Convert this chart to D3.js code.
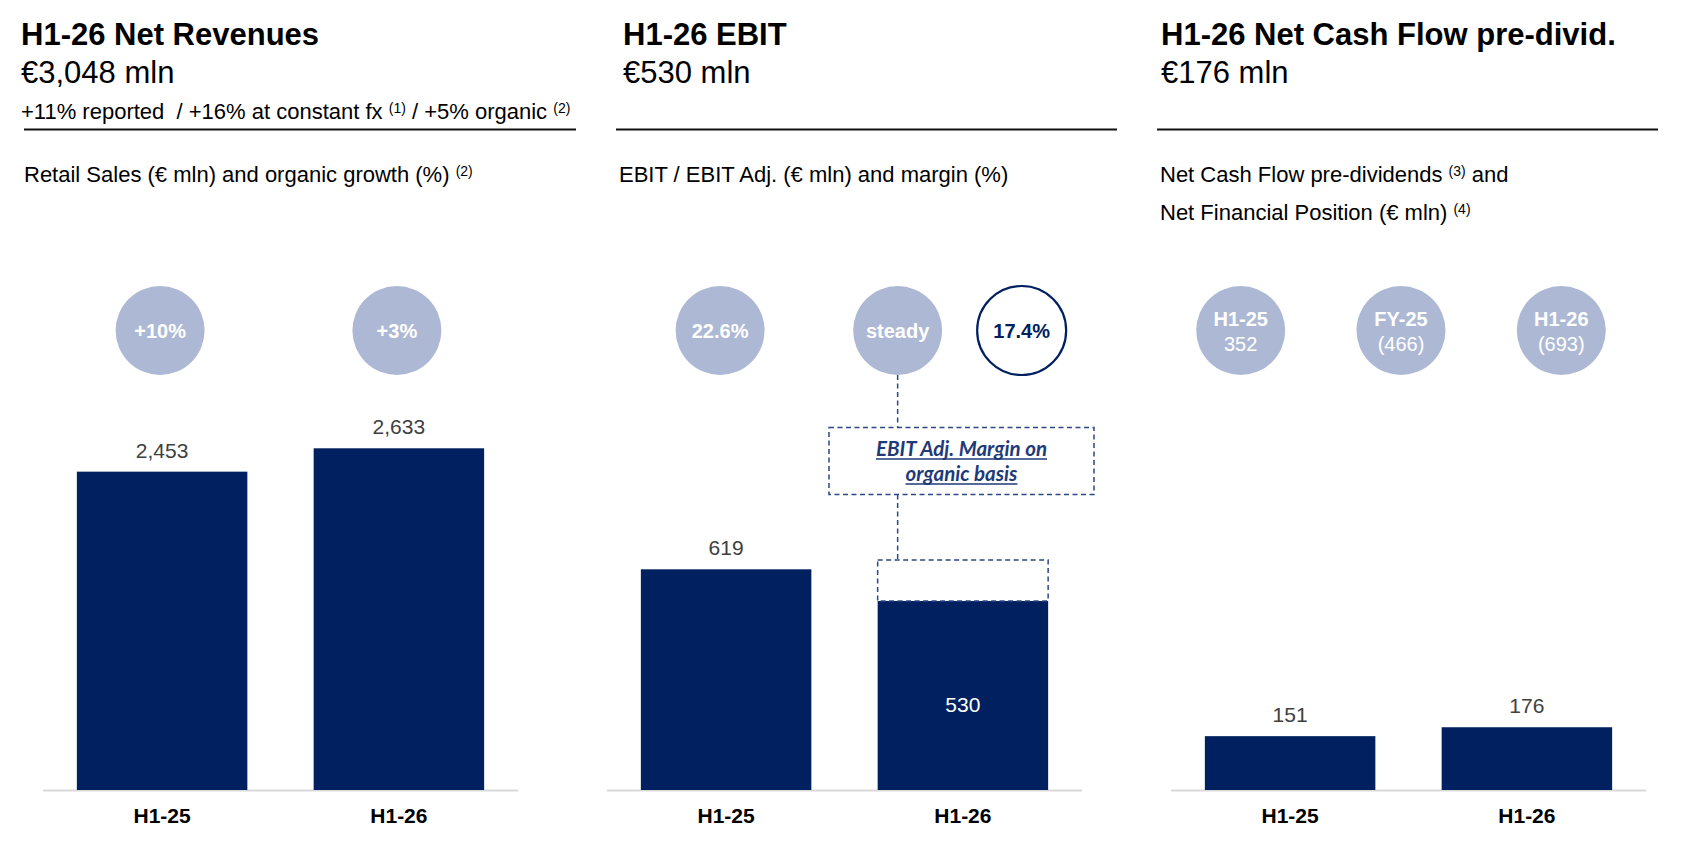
<!DOCTYPE html>
<html>
<head>
<meta charset="utf-8">
<script src="https://cdn.jsdelivr.net/npm/d3@7"></script>
<style>
  body { margin: 0; background: #fff; }
  svg { font-family: "Liberation Sans", Arial, sans-serif; }
</style>
</head>
<body>
<svg id="chart" width="1700" height="850"></svg>
<script>
// Data
const categories = ["H1-25", "H1-26"];
const revenueValues = [2453, 2633];
const revenueGrowth = ["+10%", "+3%"];
const ebitValues = [619, 530];
const ebitAdjValue = 645;
const ebitMargins = ["22.6%", "steady", "17.4%"];
const cashFlowValues = [151, 176];
const nfpPeriods = ["H1-25", "FY-25", "H1-26"];
const nfpValues = ["352", "(466)", "(693)"];

const NAVY = "#002060";
const BUBBLE = "#adb9d4";
const DASH = "#2c4785";

const svg = d3.select("#chart");

// Layout
const panelW = 475;
const baseY = 790;
const bubbleY = 330.5;
const bubbleR = 44.5;

const xScale = (x0) =>
  d3.scaleBand().domain(categories).range([x0, x0 + panelW])
    .paddingInner(0.28).paddingOuter(0.143);

// revenue gets its own scale, EBIT and cash flow share one
const yRevenue = d3.scaleLinear().domain([0, 2633]).range([baseY, 448.3]);
const ySmall = d3.scaleLinear().domain([0, 619]).range([baseY, 569.3]);

// Headers
const headers = [
  { x: 21, title: "H1-26 Net Revenues", value: "€3,048 mln", lineX: [24, 576] },
  { x: 623, title: "H1-26 EBIT", value: "€530 mln", lineX: [616, 1117] },
  { x: 1161, title: "H1-26 Net Cash Flow pre-divid.", value: "€176 mln", lineX: [1157, 1658] },
];

headers.forEach((h) => {
  svg.append("text").attr("x", h.x).attr("y", 44.5)
    .style("font-size", "31px").style("font-weight", "bold").text(h.title);
  svg.append("text").attr("x", h.x).attr("y", 83)
    .style("font-size", "31px").text(h.value);
  svg.append("line")
    .attr("x1", h.lineX[0]).attr("x2", h.lineX[1])
    .attr("y1", 129.5).attr("y2", 129.5)
    .attr("stroke", "#111").attr("stroke-width", 1.8);
});

// text with superscript notes: parts = [[text, isSup], ...]
const richText = (x, y, size, parts) => {
  const t = svg.append("text").attr("x", x).attr("y", y).style("font-size", size + "px");
  parts.forEach(([s, sup]) => {
    t.append("tspan")
      .attr("baseline-shift", sup ? "40%" : null)
      .style("font-size", sup ? "14px" : null)
      .text(s);
  });
  return t;
};

richText(21, 118.5, 22, [
  ["+11% reported  / +16% at constant fx ", false], ["(1)", true],
  [" / +5% organic ", false], ["(2)", true],
]).attr("xml:space", "preserve");
richText(24, 182, 22, [["Retail Sales (€ mln) and organic growth (%) ", false], ["(2)", true]]);
richText(619, 182, 22, [["EBIT / EBIT Adj. (€ mln) and margin (%)", false]]);
richText(1160, 182, 22, [["Net Cash Flow pre-dividends ", false], ["(3)", true], [" and", false]]);
richText(1160, 220, 22, [["Net Financial Position (€ mln) ", false], ["(4)", true]]);

// Bars
const drawPanel = (x0, values, yScale, labelInside) => {
  const x = xScale(x0);
  const g = svg.append("g");
  g.append("line")
    .attr("x1", x0).attr("x2", x0 + panelW)
    .attr("y1", baseY + 0.5).attr("y2", baseY + 0.5)
    .attr("stroke", "#d9d9d9").attr("stroke-width", 2);
  const data = categories.map((c, i) => ({ cat: c, value: values[i] }));
  g.selectAll("rect.bar").data(data).join("rect")
    .attr("class", "bar")
    .attr("x", (d) => x(d.cat))
    .attr("width", x.bandwidth())
    .attr("y", (d) => yScale(d.value))
    .attr("height", (d) => baseY - yScale(d.value))
    .attr("fill", NAVY);
  g.selectAll("text.val").data(data).join("text")
    .attr("class", "val")
    .attr("x", (d) => x(d.cat) + x.bandwidth() / 2)
    .attr("y", (d) => (labelInside && labelInside(d) ? 712 : yScale(d.value) - 14))
    .attr("text-anchor", "middle")
    .style("font-size", "21px")
    .attr("fill", (d) => (labelInside && labelInside(d) ? "#fff" : "#404040"))
    .text((d) => d3.format(",")(d.value));
  g.selectAll("text.cat").data(data).join("text")
    .attr("class", "cat")
    .attr("x", (d) => x(d.cat) + x.bandwidth() / 2)
    .attr("y", 822.5)
    .attr("text-anchor", "middle")
    .style("font-size", "21px").style("font-weight", "bold")
    .text((d) => d.cat);
  return x;
};

const bubble = (cx, lines, outline) => {
  svg.append("circle").attr("cx", cx).attr("cy", bubbleY).attr("r", bubbleR)
    .attr("fill", outline ? "#fff" : BUBBLE)
    .attr("stroke", outline ? NAVY : "none").attr("stroke-width", 2.2);
  lines.forEach((l) => {
    svg.append("text").attr("x", cx).attr("y", l.y)
      .attr("text-anchor", "middle")
      .style("font-size", "20px").style("font-weight", l.bold ? "bold" : "normal")
      .attr("fill", outline ? NAVY : "#fff")
      .text(l.text);
  });
};

// Panel 1: revenues
const x1 = drawPanel(43, revenueValues, yRevenue);
categories.forEach((c, i) =>
  bubble(x1(c) + x1.bandwidth() / 2 - 2, [{ text: revenueGrowth[i], y: bubbleY + 7.5, bold: true }])
);

// Panel 2: EBIT
const x2 = drawPanel(607, ebitValues, ySmall, (d) => d.cat === "H1-26");
const adjX = x2("H1-26");
const connX = adjX + 20;
svg.append("rect")
  .attr("x", adjX).attr("width", x2.bandwidth())
  .attr("y", ySmall(ebitAdjValue))
  .attr("height", ySmall(ebitValues[1]) - ySmall(ebitAdjValue))
  .attr("fill", "none").attr("stroke", DASH)
  .attr("stroke-width", 1.5).attr("stroke-dasharray", "5,3.5");

bubble(x2("H1-25") + x2.bandwidth() / 2 - 6, [{ text: ebitMargins[0], y: bubbleY + 7.5, bold: true }]);
bubble(connX, [{ text: ebitMargins[1], y: bubbleY + 7.5, bold: true }]);
bubble(adjX + 144, [{ text: ebitMargins[2], y: bubbleY + 7.5, bold: true }], true);

// annotation box with connectors
const boxTop = 427.5, boxBottom = 494.5;
svg.append("rect")
  .attr("x", 829).attr("y", boxTop).attr("width", 265).attr("height", boxBottom - boxTop)
  .attr("fill", "none").attr("stroke", DASH)
  .attr("stroke-width", 1.5).attr("stroke-dasharray", "5,3.5");
[[bubbleY + bubbleR, boxTop], [boxBottom, ySmall(ebitAdjValue)]].forEach(([a, b]) => {
  svg.append("line").attr("x1", connX).attr("x2", connX).attr("y1", a).attr("y2", b)
    .attr("stroke", DASH).attr("stroke-width", 1.5).attr("stroke-dasharray", "5,3.5");
});
["EBIT Adj. Margin on", "organic basis"].forEach((s, i) => {
  const t = svg.append("text")
    .attr("x", 961.5).attr("y", 456 + i * 25)
    .attr("text-anchor", "middle")
    .style("font-family", "Lato, 'Open Sans', sans-serif")
    .style("font-size", "20.5px").style("font-weight", "bold").style("font-style", "italic")
    .attr("fill", "#1f3a78")
    .text(s);
  const w = t.node().getComputedTextLength();
  svg.append("line")
    .attr("x1", 961.5 - w / 2).attr("x2", 961.5 + w / 2)
    .attr("y1", 456 + i * 25 + 3).attr("y2", 456 + i * 25 + 3)
    .attr("stroke", "#1f3a78").attr("stroke-width", 1.3);
});

// Panel 3: cash flow + net financial position
drawPanel(1171, cashFlowValues, ySmall);
const xNfp = d3.scalePoint().domain(nfpPeriods).range([1240.7, 1561.3]);
nfpPeriods.forEach((p, i) =>
  bubble(xNfp(p), [
    { text: p, y: 325.5, bold: true },
    { text: nfpValues[i], y: 351, bold: false },
  ])
);
</script>
</body>
</html>
